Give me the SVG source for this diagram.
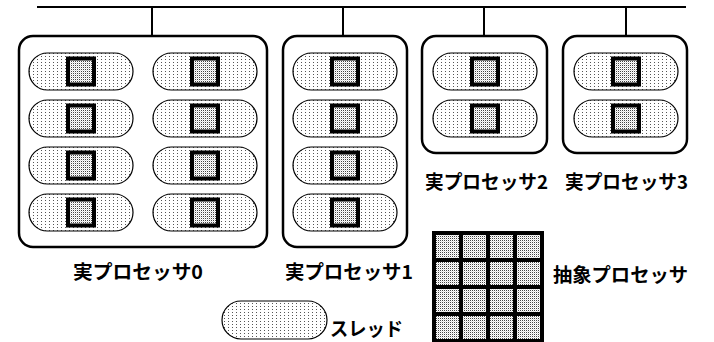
<svg xmlns="http://www.w3.org/2000/svg" xmlns:xlink="http://www.w3.org/1999/xlink" width="714" height="342" viewBox="0 0 714 342">
  <style>
    .box { fill: #ffffff; stroke: #000000; stroke-width: 2.5; }
    .wire { stroke: #000000; stroke-width: 2; fill: none; }
    .pill { fill: url(#lightDots); stroke: #000000; stroke-width: 1.2; }
    .core { fill: url(#denseDots); stroke: #000000; stroke-width: 4; }
    .cell { fill: url(#denseDots); stroke: none; }
    .lbl { font-family: "Noto Sans CJK JP", "Noto Sans", sans-serif; font-size: 19px; font-weight: bold; fill: #000000; dominant-baseline: central; }
  </style>
  <defs>
    <pattern id="lightDots" patternUnits="userSpaceOnUse" width="4" height="3">
      <rect width="4" height="3" fill="#ffffff"/>
      <rect x="0" y="0" width="1" height="1" fill="#555555"/>
    </pattern>
    <pattern id="denseDots" patternUnits="userSpaceOnUse" width="2" height="2">
      <rect width="2" height="2" fill="#ffffff"/>
      <rect x="0" y="0" width="1" height="1" fill="#444444"/>
      <rect x="1" y="1" width="1" height="1" fill="#dddddd"/>
    </pattern>
    <g id="thread">
      <rect class="pill" x="0" y="0" width="104" height="37" rx="18.5" ry="18.5"/>
      <rect class="core" x="39" y="5.5" width="26" height="26"/>
    </g>
  </defs>

  <g id="connectors">
    <line class="wire" x1="37" y1="7" x2="686" y2="7"/>
    <line class="wire" x1="152" y1="7" x2="152" y2="36"/>
    <line class="wire" x1="343" y1="7" x2="343" y2="36"/>
    <line class="wire" x1="484" y1="7" x2="484" y2="36"/>
    <line class="wire" x1="626" y1="7" x2="626" y2="36"/>
  </g>

  <g id="processor0">
    <rect class="box" x="19" y="36" width="248" height="211" rx="14" ry="14"/>
    <use xlink:href="#thread" href="#thread" x="29" y="53"/>
    <use xlink:href="#thread" href="#thread" x="29" y="100"/>
    <use xlink:href="#thread" href="#thread" x="29" y="147"/>
    <use xlink:href="#thread" href="#thread" x="29" y="194"/>
    <use xlink:href="#thread" href="#thread" x="153" y="53"/>
    <use xlink:href="#thread" href="#thread" x="153" y="100"/>
    <use xlink:href="#thread" href="#thread" x="153" y="147"/>
    <use xlink:href="#thread" href="#thread" x="153" y="194"/>
    <text class="lbl" x="73" y="270" textLength="130" lengthAdjust="spacingAndGlyphs">実プロセッサ0</text>
  </g>

  <g id="processor1">
    <rect class="box" x="283" y="36" width="124" height="211" rx="14" ry="14"/>
    <use xlink:href="#thread" href="#thread" x="293" y="53"/>
    <use xlink:href="#thread" href="#thread" x="293" y="100"/>
    <use xlink:href="#thread" href="#thread" x="293" y="147"/>
    <use xlink:href="#thread" href="#thread" x="293" y="194"/>
    <text class="lbl" x="285" y="270" textLength="128" lengthAdjust="spacingAndGlyphs">実プロセッサ1</text>
  </g>

  <g id="processor2">
    <rect class="box" x="422" y="36" width="125" height="117" rx="14" ry="14"/>
    <use xlink:href="#thread" href="#thread" x="433" y="53"/>
    <use xlink:href="#thread" href="#thread" x="433" y="100"/>
    <text class="lbl" x="425" y="180" textLength="123" lengthAdjust="spacingAndGlyphs">実プロセッサ2</text>
  </g>

  <g id="processor3">
    <rect class="box" x="563" y="36" width="124" height="117" rx="14" ry="14"/>
    <use xlink:href="#thread" href="#thread" x="574" y="53"/>
    <use xlink:href="#thread" href="#thread" x="574" y="100"/>
    <text class="lbl" x="565" y="180" textLength="123" lengthAdjust="spacingAndGlyphs">実プロセッサ3</text>
  </g>

  <g id="legend-thread">
    <rect class="pill" x="222" y="301" width="105" height="38" rx="19" ry="19"/>
    <text class="lbl" x="330" y="327" textLength="73" lengthAdjust="spacingAndGlyphs">スレッド</text>
  </g>

  <g id="legend-abstract">
    <rect x="432" y="231" width="112" height="112" fill="#000000"/>
    <rect class="cell" x="436" y="235" width="23" height="23"/>
    <rect class="cell" x="463" y="235" width="23" height="23"/>
    <rect class="cell" x="490" y="235" width="23" height="23"/>
    <rect class="cell" x="517" y="235" width="23" height="23"/>
    <rect class="cell" x="436" y="262" width="23" height="23"/>
    <rect class="cell" x="463" y="262" width="23" height="23"/>
    <rect class="cell" x="490" y="262" width="23" height="23"/>
    <rect class="cell" x="517" y="262" width="23" height="23"/>
    <rect class="cell" x="436" y="289" width="23" height="23"/>
    <rect class="cell" x="463" y="289" width="23" height="23"/>
    <rect class="cell" x="490" y="289" width="23" height="23"/>
    <rect class="cell" x="517" y="289" width="23" height="23"/>
    <rect class="cell" x="436" y="316" width="23" height="23"/>
    <rect class="cell" x="463" y="316" width="23" height="23"/>
    <rect class="cell" x="490" y="316" width="23" height="23"/>
    <rect class="cell" x="517" y="316" width="23" height="23"/>
    <text class="lbl" x="553" y="273" textLength="135" lengthAdjust="spacingAndGlyphs">抽象プロセッサ</text>
  </g>
</svg>
